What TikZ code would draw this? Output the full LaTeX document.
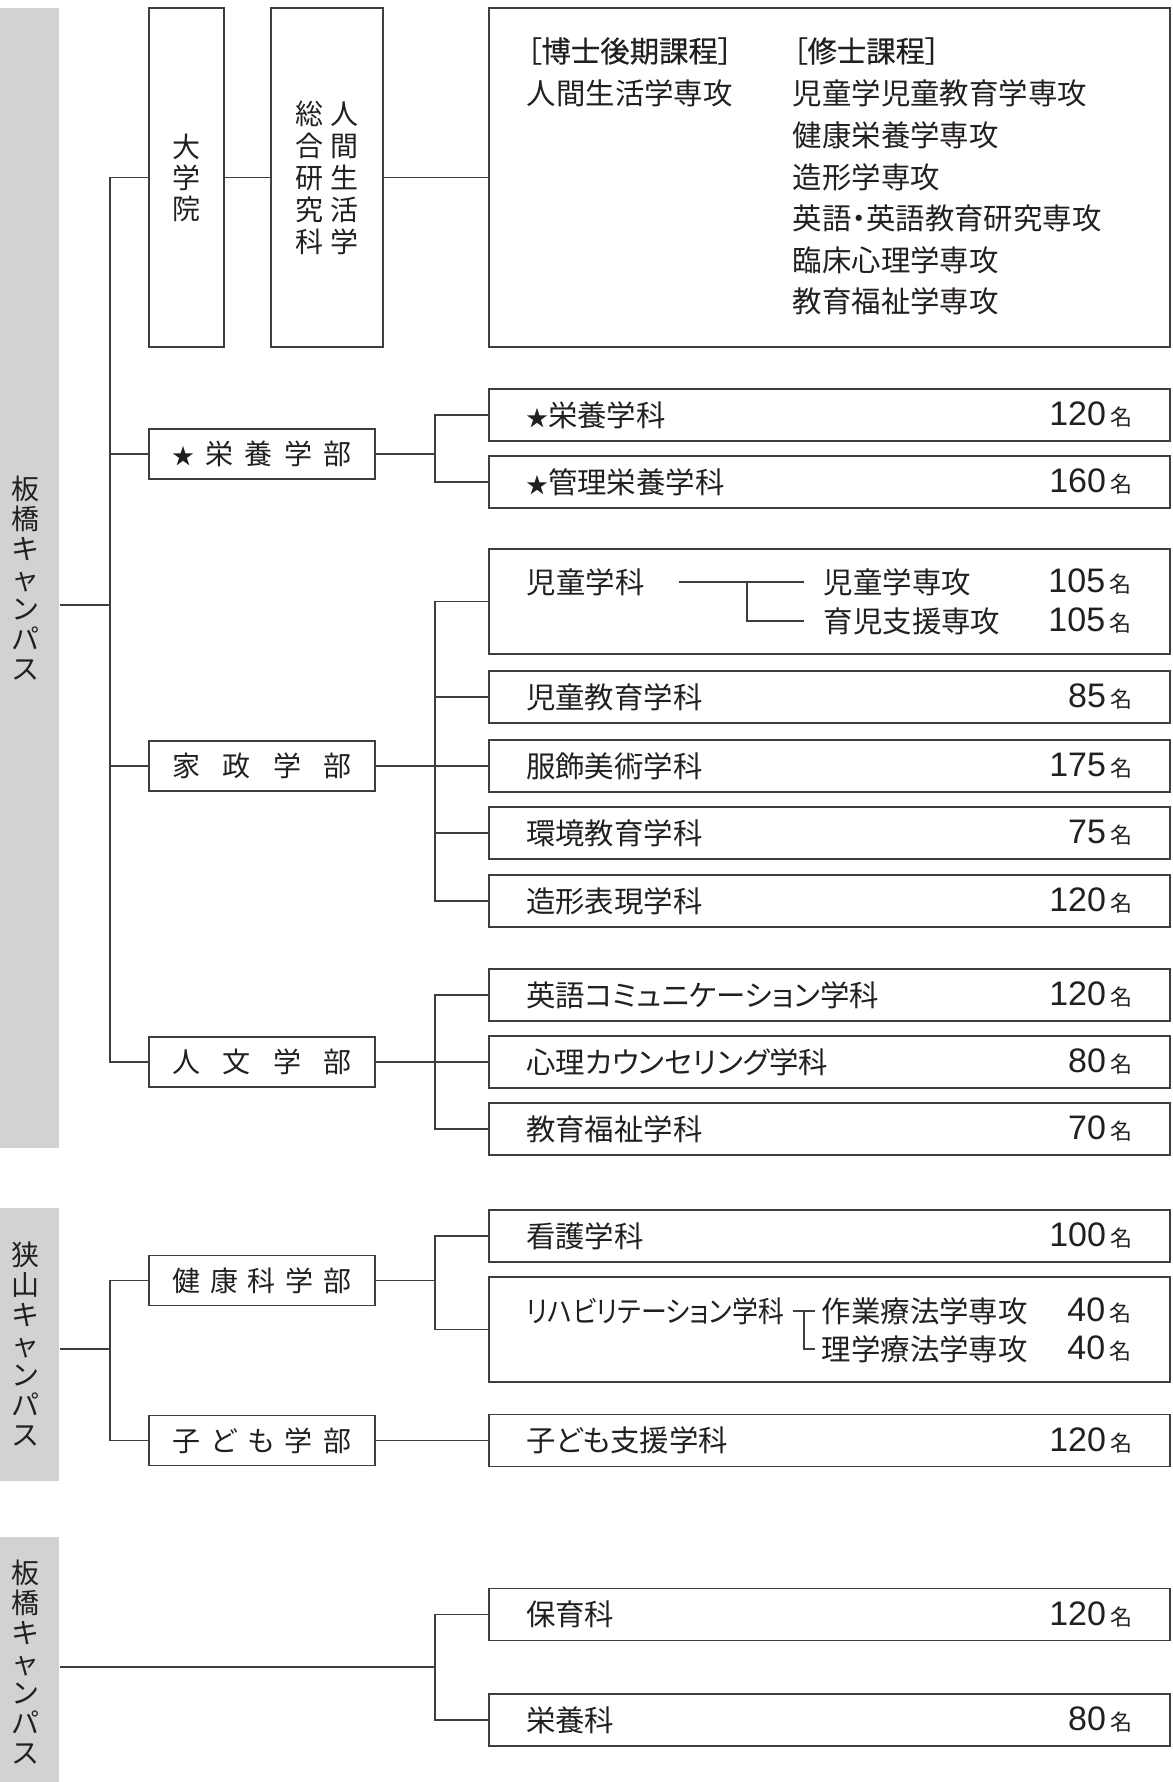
\documentclass[tikz,border=0pt]{standalone}
\usepackage{fontspec}
\setmainfont{Noto Sans CJK JP}[RawFeature=+palt]
\newfontfamily\midashifont{Noto Sans CJK JP}[RawFeature=+palt,FakeBold=0.4]
\newfontfamily\sujifont{Liberation Sans}
\usetikzlibrary{positioning}
\definecolor{sumi}{RGB}{35,31,32}
\definecolor{senc}{RGB}{62,62,64}
\definecolor{obic}{RGB}{209,210,212}
\newcommand{\nmei}{\hspace{2pt}{\rmfamily\fontsize{11}{11}\selectfont 名}}
\newcommand{\hoshi}{{\fontsize{11}{11}\selectfont ★}}
\begin{document}
\begin{tikzpicture}[x=0.5pt,y=-0.5pt,line width=0.8pt,color=senc,
  every node/.style={text=sumi,inner sep=0pt},
  obi/.style={fill=obic,minimum width=29.5pt},
  obimoji/.style={align=center,font=\fontsize{14}{15}\selectfont},
  tate/.style={draw=senc,minimum height=169.5pt,align=center,font=\fontsize{14}{16}\selectfont},
  gakubu/.style={draw=senc,minimum width=113pt,minimum height=25pt,font=\fontsize{14}{16}\selectfont},
  waku/.style={draw=senc,minimum width=340.5pt,minimum height=26pt},
  mei/.style={anchor=west,font=\fontsize{14.7}{16}\selectfont},
  midashi/.style={anchor=west,font=\midashifont\fontsize{14.7}{16}\selectfont},
  ninzu/.style={anchor=east,font=\sujifont\fontsize{17}{18}\selectfont}]
\useasboundingbox (0,0) rectangle (1172,1782);
%% キャンパスの帯
\node[obi,minimum height=570pt] (itabashi) at (29.5,578) {};
\node[obi,minimum height=136.5pt] (sayama) at (29.5,1344.5) {};
\node[obi,minimum height=122.5pt] (itabashi2) at (29.5,1659.5) {};
\node[obimoji] (itabashil) at (25.5,578) {板\\橋\\キ\\ャ\\ン\\パ\\ス};
\node[obimoji] (sayamal) at (25.5,1344.5) {狭\\山\\キ\\ャ\\ン\\パ\\ス};
\node[obimoji] (itabashi2l) at (25.5,1662) {板\\橋\\キ\\ャ\\ン\\パ\\ス};
%% 大学院
\node[tate,minimum width=37.5pt,font=\fontsize{14}{15.5}\selectfont] (daigakuin) at (186.5,177.5) {大\\学\\院};
\node[tate,minimum width=56pt] (kenkyuka) at (327,177.5) {総\hspace{4pt}人\\合\hspace{4pt}間\\研\hspace{4pt}生\\究\hspace{4pt}活\\科\hspace{4pt}学};
\node[draw=senc,minimum width=340.5pt,minimum height=169.5pt] (katei) at (829.5,177.5) {};
\node[midashi] (hakase) at (526,51) {［博士後期課程］};
\node[mei] (hakase1) at (526,93) {人間生活学専攻};
\node[midashi] (shushi) at (792,51) {［修士課程］};
\node[mei] (shushi1) at (792,93) {児童学児童教育学専攻};
\node[mei] (shushi2) at (792,135) {健康栄養学専攻};
\node[mei] (shushi3) at (792,177) {造形学専攻};
\node[mei] (shushi4) at (792,218) {英語・英語教育研究専攻};
\node[mei] (shushi5) at (792,260) {臨床心理学専攻};
\node[mei] (shushi6) at (792,301) {教育福祉学専攻};
\draw (daigakuin) -- (kenkyuka) -- (katei);
%% 学部
\node[gakubu] (eiyou) at (262,454) {\makebox[89.5pt][s]{\hoshi\hfill 栄\hfill 養\hfill 学\hfill 部}};
\node[gakubu] (kasei) at (262,766) {\makebox[89.5pt][s]{家\hfill 政\hfill 学\hfill 部}};
\node[gakubu] (jinbun) at (262,1062) {\makebox[89.5pt][s]{人\hfill 文\hfill 学\hfill 部}};
\node[gakubu] (kenkou) at (262,1280.5) {\makebox[89.5pt][s]{健\hfill 康\hfill 科\hfill 学\hfill 部}};
\node[gakubu] (kodomo) at (262,1440.5) {\makebox[89.5pt][s]{子\hfill ど\hfill も\hfill 学\hfill 部}};
%% 学科
\node[waku] (eiyougakka) at (829.5,415) {};
\node[waku] (kanri) at (829.5,482) {};
\node[waku,minimum height=52.5pt] (jidou) at (829.5,601.5) {};
\node[waku] (jikyo) at (829.5,697) {};
\node[waku] (fukushoku) at (829.5,766) {};
\node[waku] (kankyo) at (829.5,833) {};
\node[waku] (zoukei) at (829.5,901) {};
\node[waku] (eigo) at (829.5,995) {};
\node[waku] (shinri) at (829.5,1062) {};
\node[waku] (fukushi) at (829.5,1129) {};
\node[waku] (kango) at (829.5,1236) {};
\node[waku,minimum height=52.5pt] (riha) at (829.5,1329.5) {};
\node[waku] (kodomoshien) at (829.5,1440.5) {};
\node[waku] (hoiku) at (829.5,1614.5) {};
\node[waku] (eiyouka) at (829.5,1720) {};
\node[mei,right=18.5pt of eiyougakka.west] {\hoshi 栄養学科};
\node[ninzu,left=19pt of eiyougakka.east] {120\nmei};
\node[mei,right=18.5pt of kanri.west] {\hoshi 管理栄養学科};
\node[ninzu,left=19pt of kanri.east] {160\nmei};
\node[mei,right=18.5pt of jikyo.west] {児童教育学科};
\node[ninzu,left=19pt of jikyo.east] {85\nmei};
\node[mei,right=18.5pt of fukushoku.west] {服飾美術学科};
\node[ninzu,left=19pt of fukushoku.east] {175\nmei};
\node[mei,right=18.5pt of kankyo.west] {環境教育学科};
\node[ninzu,left=19pt of kankyo.east] {75\nmei};
\node[mei,right=18.5pt of zoukei.west] {造形表現学科};
\node[ninzu,left=19pt of zoukei.east] {120\nmei};
\node[mei,right=18.5pt of eigo.west] {英語コミュニケーション学科};
\node[ninzu,left=19pt of eigo.east] {120\nmei};
\node[mei,right=18.5pt of shinri.west] {心理カウンセリング学科};
\node[ninzu,left=19pt of shinri.east] {80\nmei};
\node[mei,right=18.5pt of fukushi.west] {教育福祉学科};
\node[ninzu,left=19pt of fukushi.east] {70\nmei};
\node[mei,right=18.5pt of kango.west] {看護学科};
\node[ninzu,left=19pt of kango.east] {100\nmei};
\node[mei,right=18.5pt of kodomoshien.west] {子ども支援学科};
\node[ninzu,left=19pt of kodomoshien.east] {120\nmei};
\node[mei,right=18.5pt of hoiku.west] {保育科};
\node[ninzu,left=19pt of hoiku.east] {120\nmei};
\node[mei,right=18.5pt of eiyouka.west] {栄養科};
\node[ninzu,left=19pt of eiyouka.east] {80\nmei};
%% 児童学科の専攻
\node[mei] (jidoul) at (526,582) {児童学科};
\node[mei] (jsenko1) at (823,582) {児童学専攻};
\node[mei] (jsenko2) at (823,621) {育児支援専攻};
\node[ninzu] at (1132,582) {105\nmei};
\node[ninzu] at (1132,621) {105\nmei};
\coordinate (jbr) at (747,0);
\draw[shorten <=16.7pt,shorten >=9.5pt] (jidoul.east) -- (jsenko1.west);
\draw[shorten >=9.5pt] (jbr |- jsenko1.west) |- (jsenko2.west);
%% リハビリテーション学科の専攻
\node[mei] (rihal) at (526,1311) {\scalebox{0.88}[1]{リハビリテーション学科}};
\node[mei] (rsenko1) at (821,1311) {作業療法学専攻};
\node[mei] (rsenko2) at (821,1349) {理学療法学専攻};
\node[ninzu] at (1132,1311) {40\nmei};
\node[ninzu] at (1132,1349) {40\nmei};
\coordinate (rbr) at (804,0);
\draw[shorten <=4pt,shorten >=3pt] (rihal.east) -- (rsenko1.west);
\draw[shorten >=3pt] (rbr |- rsenko1.west) |- (rsenko2.west);
%% 板橋キャンパスの線
\coordinate (c1) at (110,605);
\coordinate (bus) at (435,0);
\draw (itabashi.east |- c1) -- (c1);
\draw (daigakuin.west) -| (c1) |- (jinbun.west);
\draw (eiyou.west) -- (eiyou.west -| c1);
\draw (kasei.west) -- (kasei.west -| c1);
\draw (eiyou.east) -- (eiyou.east -| bus);
\draw (eiyougakka.west) -| (bus |- kanri.west) -- (kanri.west);
\draw (kasei.east) -- (fukushoku.west);
\draw (jidou.west) -| (bus |- zoukei.west) -- (zoukei.west);
\draw (jikyo.west) -- (jikyo.west -| bus);
\draw (kankyo.west) -- (kankyo.west -| bus);
\draw (jinbun.east) -- (shinri.west);
\draw (eigo.west) -| (bus |- fukushi.west) -- (fukushi.west);
%% 狭山キャンパスの線
\coordinate (c2) at (110,1349);
\draw (sayama.east |- c2) -- (c2);
\draw (kenkou.west) -| (c2) |- (kodomo.west);
\draw (kenkou.east) -- (kenkou.east -| bus);
\draw (kango.west) -| (bus |- riha.west) -- (riha.west);
\draw (kodomo) -- (kodomoshien);
%% 短期大学部
\coordinate (c3) at (435,1667);
\draw (itabashi2.east |- c3) -- (c3);
\draw (hoiku.west) -| (c3) |- (eiyouka.west);
\end{tikzpicture}
\end{document}
